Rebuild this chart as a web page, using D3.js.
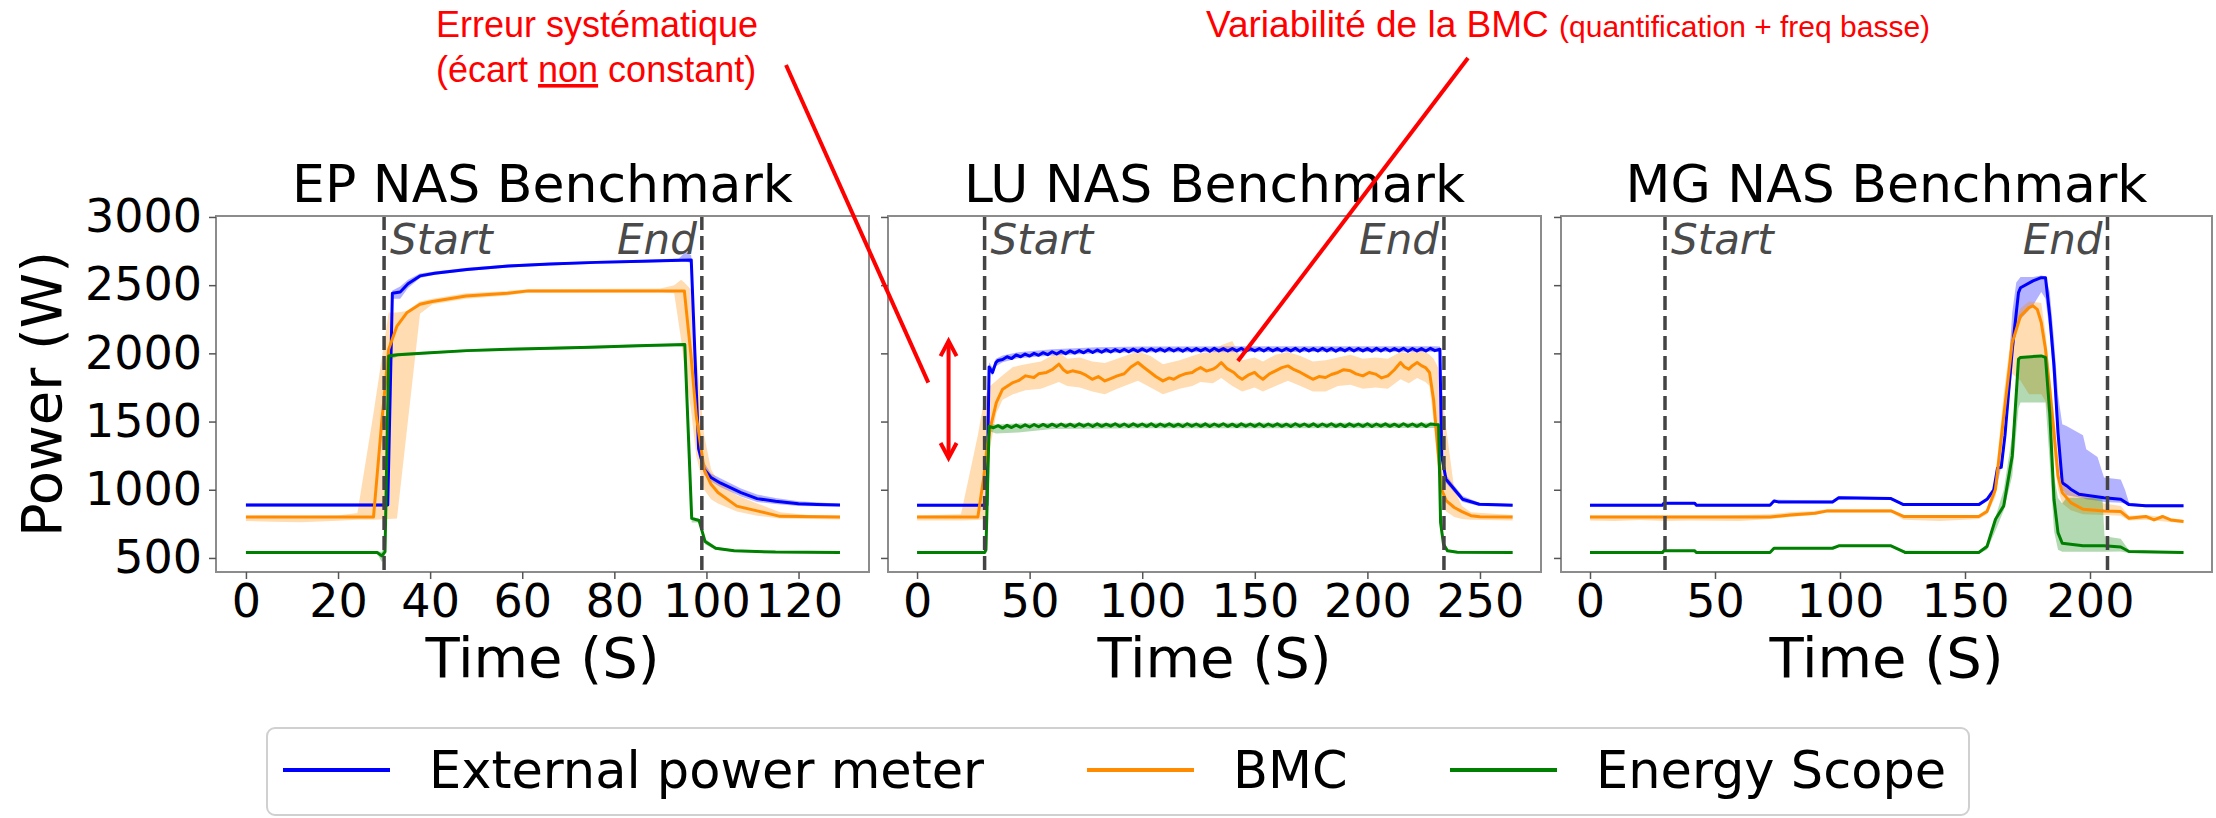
<!DOCTYPE html>
<html>
<head>
<meta charset="utf-8">
<script src="https://cdn.jsdelivr.net/npm/d3@7"></script>
<style>
  body { margin: 0; background: #fff; }
  svg text { font-family: "DejaVu Sans", sans-serif; }
  .note { font-family: "Liberation Sans", Arial, sans-serif !important; fill: #ff0000; }
</style>
</head>
<body>
<svg id="fig" width="2216" height="818"></svg>
<script>
// ---- data : [time, W] for lines, [time, low, high] for bands ----
const seriesNames = ["External power meter", "BMC", "Energy Scope"];
const seriesColors = ["#0000ff", "#ff8c00", "#008000"];
const yTicks = [500, 1000, 1500, 2000, 2500, 3000];

// EP
const epTicks = [0, 20, 40, 60, 80, 100, 120];
const epMarks = [30, 99];
const epExtLine = [[0,888],[30.8,888],[31.8,2440],[33.5,2450],[35.2,2510],[37.8,2568],[41,2588],[48,2615],[57,2640],[66,2655],[76,2667],[86,2675],[96.7,2685],[98.3,1300],[99.5,1150],[101,1090],[103,1050],[107.5,979],[111,935],[115,915],[120,897],[124,892],[129,888]];
const epExtBand = [[0,876,900],[30.8,876,900],[31.8,2400,2460],[33.5,2400,2490],[35.2,2480,2540],[37.8,2552,2585],[41,2576,2600],[48,2604,2627],[57,2630,2652],[66,2645,2665],[76,2657,2677],[86,2665,2685],[94,2673,2695],[95.5,2675,2745],[96.7,2660,2720],[98.3,1250,1350],[99.5,1110,1200],[101,1060,1120],[103,1020,1085],[107.5,950,1010],[111,910,965],[115,895,940],[120,880,915],[129,878,898]];
const epBmcLine = [[0,800],[27.7,800],[29.5,1500],[31,2030],[32.8,2200],[35,2300],[37.8,2360],[40.5,2380],[47.8,2420],[56.8,2440],[61.3,2458],[95.2,2458],[96.6,2000],[97.8,1540],[99.5,1150],[101,1040],[102.5,980],[106.6,880],[111,845],[116,805],[129,800]];
const epBmcBand = [[0,770,810],[6,765,812],[12,762,810],[20,772,812],[24.2,780,830],[27.7,780,1560],[31,785,2300],[32.8,790,2300],[35,1450,2310],[37.8,2290,2380],[40.5,2360,2400],[47.8,2400,2440],[56.8,2425,2458],[61.3,2445,2470],[90,2448,2475],[93,2440,2500],[94.5,2100,2540],[95.2,1900,2520],[96.6,1600,2470],[97.8,1250,2000],[99.5,1000,1400],[101,930,1150],[102.5,900,1060],[106.6,840,960],[111,810,900],[116,790,835],[122,785,815],[129,782,812]];
const epEsLine = [[0,540],[28.5,540],[29.5,515],[30.2,545],[31,1980],[33,1990],[40,2005],[48,2020],[57,2030],[66,2037],[75,2045],[85,2055],[95.3,2064],[96.8,790],[98.4,775],[99.7,620],[102,571],[106,552],[115,543],[129,540]];
const epEsBand = [[0,532,548],[28.5,532,548],[29.5,470,545],[30.2,500,600],[31,1950,1995],[33,1978,2002],[40,1995,2013],[48,2010,2030],[57,2020,2040],[66,2027,2047],[75,2035,2055],[85,2045,2065],[95.3,2052,2072],[96.8,760,800],[98.4,760,790],[99.7,600,640],[102,560,582],[106,545,560],[115,536,550],[129,533,547]];

// LU
const luTicks = [0, 50, 100, 150, 200, 250];
const luMarks = [30, 234];
const luExtLine = [[0,887],[31,887],[32,1900],[33.5,1860],[35,1932],[36,1948],[38,1955],[40,1975],[42,1962],[44,1988],[46,1975],[48,1995],[50,1980],[52,2000],[54,1986],[56,2005],[58,1990],[60,2012],[62,1995],[64,2015],[66,1998],[68,2018],[70,2002],[72,2020],[74,2004],[76,2024],[78,2006],[80,2025],[82,2008],[84,2027],[86,2010],[88,2028],[90,2012],[92,2030],[94,2012],[96,2031],[98,2014],[100,2033],[102,2015],[104,2034],[106,2016],[108,2033],[110,2015],[112,2035],[114,2017],[116,2034],[118,2016],[120,2036],[122,2017],[124,2035],[126,2018],[128,2036],[130,2016],[132,2037],[134,2018],[136,2035],[138,2017],[140,2036],[142,2018],[144,2037],[146,2016],[148,2035],[150,2018],[152,2036],[154,2017],[156,2037],[158,2018],[160,2035],[162,2017],[164,2036],[166,2018],[168,2037],[170,2016],[172,2036],[174,2018],[176,2035],[178,2017],[180,2037],[182,2018],[184,2036],[186,2016],[188,2035],[190,2018],[192,2037],[194,2017],[196,2036],[198,2018],[200,2035],[202,2016],[204,2037],[206,2018],[208,2036],[210,2017],[212,2035],[214,2018],[216,2037],[218,2016],[220,2036],[222,2018],[224,2035],[226,2017],[228,2037],[230,2020],[232.2,2030],[233,1250],[234.9,1077],[238.6,1004],[242.3,930],[249.7,894],[264.5,887]];
const luExtBand = [[0,877,898],[31,877,898],[32,1870,1935],[33.5,1835,1895],[35,1905,1960],[38,1935,1985],[45,1965,2008],[60,1985,2030],[80,2000,2045],[100,2008,2050],[150,2010,2052],[230,2012,2052],[232.2,2010,2050],[233,1220,1290],[234.9,1050,1110],[238.6,980,1030],[242.3,910,955],[249.7,880,905],[264.5,877,897]];
const luBmcLine = [[0,800],[27,800],[29.7,1100],[31,1300],[32.4,1444],[35.2,1639],[38,1737],[42.6,1786],[45,1800],[48.2,1835],[51.9,1823],[54,1850],[57.5,1860],[60,1880],[63,1921],[65,1880],[66.7,1860],[69,1872],[72.3,1860],[75,1840],[77.8,1810],[80.5,1830],[83.4,1798],[86,1815],[88.9,1835],[92,1850],[95,1900],[98.1,1933],[100.5,1900],[103.7,1860],[106,1830],[109.2,1798],[112,1820],[114,1810],[116.6,1835],[119,1850],[122.2,1860],[124,1880],[125.9,1896],[128.5,1870],[131.4,1884],[133,1900],[135.1,1933],[137.5,1890],[140.7,1860],[142.5,1830],[144.4,1810],[147,1840],[149.9,1860],[151.5,1835],[153.6,1810],[156.5,1850],[159.2,1872],[162,1895],[164.7,1908],[167.5,1880],[170.3,1860],[173,1835],[175.8,1810],[178.5,1830],[181.4,1823],[184,1845],[186.9,1860],[189.5,1880],[192.5,1872],[195,1850],[198,1835],[200.8,1860],[203.6,1848],[206.3,1820],[209.1,1835],[212,1880],[214.7,1933],[216.5,1900],[218.4,1884],[220,1910],[222.1,1933],[224,1910],[225.8,1896],[227.6,1860],[229.4,1660],[231.3,1297],[233,1000],[235,920],[238.6,870],[242,840],[246,810],[250,802],[264.5,800]];
const luBmcBand = [[0,775,812],[19.5,775,820],[27,778,1400],[29.7,785,1650],[31,800,1720],[32.4,1300,1760],[35.2,1560,1800],[38,1660,1840],[42.6,1700,1900],[48.2,1730,1920],[55,1740,1940],[63,1790,2010],[66.7,1760,1960],[72.3,1750,1970],[77.8,1720,1940],[83.4,1700,1930],[88.9,1740,1960],[98.1,1800,2015],[103.7,1750,1980],[109.2,1700,1920],[116.6,1740,1950],[122.2,1760,1980],[125.9,1790,2000],[131.4,1780,2010],[135.1,1820,2060],[140,1760,2090],[144.4,1720,1950],[149.9,1750,1970],[153.6,1720,1940],[159.2,1760,1990],[164.7,1800,2010],[170.3,1760,1980],[175.8,1720,1940],[181.4,1720,1950],[186.9,1760,1970],[192.5,1770,1990],[198,1740,1960],[203.6,1750,1970],[209.1,1740,1960],[214.7,1810,2010],[218.4,1780,2000],[222.1,1820,2030],[225.8,1790,2010],[227.6,1760,1990],[229.4,1500,1960],[231.3,1150,1900],[233,900,1750],[235,840,1450],[238.6,800,1000],[242,785,880],[246,780,835],[264.5,775,815]];
const luEsLine = [[0,540],[30,540],[30.6,560],[32,1465],[34,1455],[36,1470],[38,1452],[40,1472],[42,1456],[44,1474],[46,1458],[48,1476],[50,1460],[52,1478],[54,1462],[56,1479],[58,1463],[60,1481],[62,1464],[64,1482],[66,1465],[68,1481],[70,1464],[72,1483],[74,1466],[76,1482],[78,1464],[80,1483],[82,1465],[84,1481],[86,1466],[88,1484],[90,1465],[92,1482],[94,1464],[96,1483],[98,1466],[100,1482],[102,1465],[104,1484],[106,1463],[108,1482],[110,1466],[112,1483],[114,1465],[116,1481],[118,1464],[120,1484],[122,1466],[124,1482],[126,1465],[128,1483],[130,1464],[132,1482],[134,1466],[136,1484],[138,1465],[140,1481],[142,1463],[144,1483],[146,1466],[148,1482],[150,1465],[152,1484],[154,1464],[156,1482],[158,1466],[160,1483],[162,1465],[164,1481],[166,1464],[168,1484],[170,1466],[172,1482],[174,1465],[176,1483],[178,1464],[180,1482],[182,1466],[184,1484],[186,1465],[188,1481],[190,1463],[192,1483],[194,1466],[196,1482],[198,1465],[200,1484],[202,1464],[204,1482],[206,1466],[208,1483],[210,1465],[212,1481],[214,1464],[216,1484],[218,1466],[220,1482],[222,1465],[224,1483],[226,1464],[228,1482],[230,1478],[231.6,1476],[232.5,760],[233.8,600],[235.6,552],[240,542],[264.5,540]];
const luEsBand = [[0,533,547],[30,533,547],[30.6,535,600],[32,1430,1482],[35,1413,1478],[45,1420,1485],[60,1445,1490],[100,1450,1492],[230,1452,1492],[231.6,1450,1490],[232.5,740,800],[233.8,580,630],[235.6,545,562],[240,535,550],[264.5,533,547]];

// MG
const mgTicks = [0, 50, 100, 150, 200];
const mgMarks = [30, 207];
const mgExtLine = [[0,887],[29,887],[29.5,901],[41.9,901],[42.5,887],[72,887],[73.6,918],[75.3,911],[97,911],[99.5,942],[120.4,935],[125.4,891],[155.5,891],[158.8,930],[161.5,1000],[163,1160],[164.5,1165],[166,1400],[168.9,2030],[171.4,2445],[172.2,2481],[177.2,2531],[180.5,2555],[182.2,2555],[183.9,2274],[185.6,1908],[187.2,1419],[188.9,1052],[190.6,1030],[192.3,1004],[195.6,967],[205.6,942],[212.3,930],[215.6,891],[222.3,882],[237.4,882]];
const mgExtBand = [[0,877,897],[29,877,897],[29.5,891,911],[41.9,891,911],[42.5,877,897],[72,877,897],[73.6,906,928],[97,900,921],[99.5,930,952],[120.4,925,945],[125.4,880,900],[155.5,880,900],[158.8,915,945],[162.2,980,1030],[165.5,1250,1350],[168.9,1900,2300],[170.5,2200,2520],[172.2,2250,2560],[177.2,2350,2560],[180.5,2450,2570],[182.2,2400,2565],[183.9,2150,2450],[185.6,1750,2100],[187.2,1300,1700],[188.9,1000,1480],[190.6,960,1468],[197.2,940,1400],[198.5,930,1297],[203,920,1240],[205.6,910,1090],[212.3,905,1075],[214,900,1000],[215.6,880,905],[222.3,872,892],[237.4,872,892]];
const mgBmcLine = [[0,800],[72,800],[80,815],[90,828],[95,845],[120.4,845],[125.4,804],[155.5,804],[158.8,840],[162.2,1004],[165.5,1541],[168.9,2079],[172.2,2274],[175.6,2335],[177.2,2348],[178.9,2323],[180.5,2226],[182.2,2030],[183.9,1737],[185.6,1419],[187.2,1101],[188.9,979],[192.3,906],[197.2,857],[205.6,845],[212.3,840],[215.6,791],[222.3,804],[225.6,779],[229,804],[232.3,779],[237.4,767]];
const mgBmcBand = [[0,775,812],[10,770,812],[20,778,812],[30,770,812],[40,775,812],[50,772,812],[60,770,815],[72,785,820],[80,800,835],[90,815,845],[95,835,858],[120.4,835,858],[125.4,780,815],[140,770,812],[155.5,785,815],[158.8,820,860],[162.2,950,1100],[165.5,1400,1700],[168.9,1850,2200],[172.2,1800,2330],[175.6,1700,2380],[180.5,1700,2370],[182.2,1650,2150],[183.9,1500,1850],[185.6,1250,1550],[187.2,1000,1250],[188.9,900,1100],[192.3,850,1000],[197.2,820,980],[205.6,815,900],[212.3,810,880],[215.6,775,810],[222.3,780,815],[237.4,755,780]];
const mgEsLine = [[0,540],[29,540],[29.5,552],[41.9,552],[42.5,540],[72,540],[73.6,571],[97,571],[99.5,589],[120.4,589],[125.4,547],[126,540],[155.5,540],[158.8,584],[162.2,784],[165.5,882],[168.9,1248],[171.4,1957],[172.2,1970],[180.5,1981],[182.2,1970],[183.9,1560],[185.6,930],[187.2,686],[188.9,608],[197.2,590],[205.6,590],[212.3,580],[215.6,547],[237.4,540]];
const mgEsBand = [[0,533,547],[29,533,547],[29.5,545,560],[41.9,545,560],[42.5,533,547],[72,533,547],[73.6,563,579],[97,563,579],[99.5,580,597],[120.4,580,597],[125.4,540,555],[155.5,533,547],[158.8,560,600],[162.2,700,800],[165.5,850,1000],[168.9,1100,1400],[171.4,1600,1970],[172.2,1640,1975],[180.5,1640,1985],[182.2,1640,1980],[183.9,1200,1700],[185.6,700,1100],[187.2,560,940],[188.9,545,900],[190.6,545,942],[197.2,545,942],[205,545,935],[205.8,545,660],[212.3,548,640],[215.6,537,556],[237.4,533,547]];

// ---- layout ----
const panels = [
  { title: "EP NAS Benchmark", left: 216, right: 869, domain: [-6.5, 135.3], ticks: epTicks, marks: epMarks,
    lines: [epExtLine, epBmcLine, epEsLine], bands: [epExtBand, epBmcBand, epEsBand] },
  { title: "LU NAS Benchmark", left: 888, right: 1541, domain: [-12.9, 277.1], ticks: luTicks, marks: luMarks,
    lines: [luExtLine, luBmcLine, luEsLine], bands: [luExtBand, luBmcBand, luEsBand] },
  { title: "MG NAS Benchmark", left: 1561, right: 2212, domain: [-11.6, 248.8], ticks: mgTicks, marks: mgMarks,
    lines: [mgExtLine, mgBmcLine, mgEsLine], bands: [mgExtBand, mgBmcBand, mgEsBand] }
];
const plotTop = 216, plotBottom = 572;

const svg = d3.select("#fig");
const y = d3.scaleLinear().domain([397, 3007]).range([plotBottom, plotTop]);
const xs = [];

panels.forEach((p, i) => {
  const x = d3.scaleLinear().domain(p.domain).range([p.left, p.right]);
  xs.push(x);
  const g = svg.append("g");

  g.append("clipPath").attr("id", "clip" + i)
    .append("rect").attr("x", p.left).attr("y", plotTop)
    .attr("width", p.right - p.left).attr("height", plotBottom - plotTop);
  const plot = g.append("g").attr("clip-path", `url(#clip${i})`);

  const area = d3.area().x(d => x(d[0])).y0(d => y(d[1])).y1(d => y(d[2]));
  const line = d3.line().x(d => x(d[0])).y(d => y(d[1]));

  p.bands.forEach((b, k) => {
    plot.append("path").datum(b).attr("d", area)
      .attr("fill", seriesColors[k]).attr("fill-opacity", 0.3);
  });
  p.lines.forEach((l, k) => {
    plot.append("path").datum(l).attr("d", line)
      .attr("fill", "none").attr("stroke", seriesColors[k])
      .attr("stroke-width", 3).attr("stroke-linejoin", "round");
  });

  // start / end markers
  p.marks.forEach((m, k) => {
    plot.append("line").attr("x1", x(m)).attr("x2", x(m)).attr("y1", plotTop).attr("y2", plotBottom)
      .attr("stroke", "#444").attr("stroke-width", 3.5).attr("stroke-dasharray", "14,6");
    g.append("text")
      .attr("x", k === 0 ? x(m) + 6 : x(m) - 5).attr("y", 254)
      .attr("text-anchor", k === 0 ? "start" : "end")
      .style("font-style", "italic").style("font-size", "42px").attr("fill", "#4a4a4a")
      .text(k === 0 ? "Start" : "End");
  });

  // frame
  g.append("rect").attr("x", p.left).attr("y", plotTop)
    .attr("width", p.right - p.left).attr("height", plotBottom - plotTop)
    .attr("fill", "none").attr("stroke", "#8c8c8c").attr("stroke-width", 2);

  // axes
  const ax = g.append("g").attr("transform", `translate(0,${plotBottom})`)
    .call(d3.axisBottom(x).tickValues(p.ticks).tickSize(7).tickPadding(5));
  const ay = g.append("g").attr("transform", `translate(${p.left},0)`)
    .call(d3.axisLeft(y).tickValues(yTicks).tickSize(7).tickPadding(7)
      .tickFormat(i === 0 ? d3.format("d") : () => ""));
  [ax, ay].forEach(a => {
    a.select(".domain").remove();
    a.selectAll("line").attr("stroke", "#555").attr("stroke-width", 1.5);
    a.selectAll("text").style("font-size", "46px").attr("fill", "#000");
  });

  g.append("text").attr("x", (p.left + p.right) / 2).attr("y", 202)
    .attr("text-anchor", "middle").style("font-size", "52px").text(p.title);
  g.append("text").attr("x", (p.left + p.right) / 2).attr("y", 677)
    .attr("text-anchor", "middle").style("font-size", "56px").text("Time (S)");
});

svg.append("text").attr("transform", "translate(61,394) rotate(-90)")
  .attr("text-anchor", "middle").style("font-size", "56px").text("Power (W)");

// ---- legend ----
const legend = svg.append("g");
legend.append("rect").attr("x", 267).attr("y", 728).attr("width", 1702).attr("height", 87)
  .attr("rx", 8).attr("fill", "#fff").attr("stroke", "#d0d0d0").attr("stroke-width", 2);
const legendX = [283, 1087, 1450];
seriesNames.forEach((name, k) => {
  legend.append("line").attr("x1", legendX[k]).attr("x2", legendX[k] + 107)
    .attr("y1", 770).attr("y2", 770).attr("stroke", seriesColors[k]).attr("stroke-width", 4);
  legend.append("text").attr("x", legendX[k] + 146).attr("y", 788)
    .style("font-size", "51px").text(name);
});

// ---- red annotations ----
const notes = svg.append("g");
notes.append("text").attr("class", "note").attr("x", 436).attr("y", 37)
  .style("font-size", "36px").text("Erreur systématique");
const t2 = notes.append("text").attr("class", "note").attr("x", 436).attr("y", 82).style("font-size", "36px");
t2.append("tspan").text("(écart ");
t2.append("tspan").style("text-decoration", "underline").text("non");
t2.append("tspan").text(" constant)");
const t3 = notes.append("text").attr("class", "note").attr("x", 1206).attr("y", 37).style("font-size", "37px");
t3.append("tspan").text("Variabilité de la BMC ");
t3.append("tspan").style("font-size", "30px").text("(quantification + freq basse)");

const xl = xs[1];
notes.append("line").attr("x1", 786).attr("y1", 65).attr("x2", xl(5)).attr("y2", y(1785))
  .attr("stroke", "#ff0000").attr("stroke-width", 4);
notes.append("line").attr("x1", 1468).attr("y1", 58).attr("x2", xl(142.5)).attr("y2", y(1944))
  .attr("stroke", "#ff0000").attr("stroke-width", 4);

// double arrow: systematic gap
const ax0 = xl(14), aTop = y(2090), aBot = y(1233);
notes.append("line").attr("x1", ax0).attr("x2", ax0).attr("y1", aTop + 2).attr("y2", aBot - 2)
  .attr("stroke", "#ff0000").attr("stroke-width", 4);
notes.append("path").attr("d", `M${ax0 - 8},${aTop + 15}L${ax0},${aTop}L${ax0 + 8},${aTop + 15}`)
  .attr("fill", "none").attr("stroke", "#ff0000").attr("stroke-width", 4);
notes.append("path").attr("d", `M${ax0 - 8},${aBot - 15}L${ax0},${aBot}L${ax0 + 8},${aBot - 15}`)
  .attr("fill", "none").attr("stroke", "#ff0000").attr("stroke-width", 4);
</script>
</body>
</html>
